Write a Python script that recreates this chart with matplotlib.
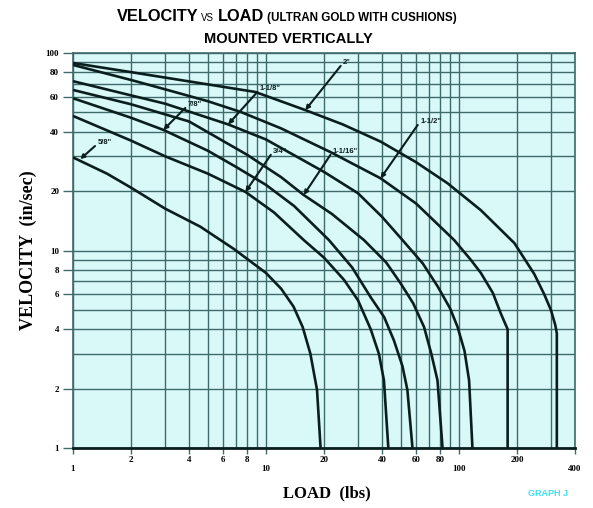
import matplotlib
matplotlib.use("Agg")
import matplotlib.pyplot as plt
from matplotlib.ticker import NullFormatter

# load (lbs) / velocity (in/sec), one pair of lists per bore
x_58 = [1, 1.5, 2, 3, 4.57, 6.8, 10, 12, 13.9, 15.5, 17, 18.4, 19.2]
v_58 = [29.6, 24.5, 20.8, 16.3, 13.2, 10.2, 7.7, 6.4, 5.2, 4.1, 3.0, 1.97, 1]
x_34 = [1, 2, 3, 5, 7.83, 11, 15.7, 20, 25.4, 30, 34.9, 38.5, 40.9, 43.1]
v_34 = [48, 36, 30, 24.5, 19.8, 15.6, 11.3, 9.2, 7.1, 5.6, 4.0, 3.0, 2.2, 1]
x_78 = [1, 2, 2.94, 5, 7, 10, 14, 21.2, 28, 34.9, 41, 46.1, 51, 54.1, 57.5]
v_78 = [59, 47, 40.8, 32, 26.5, 21.5, 16.8, 11.3, 8.2, 5.8, 4.6, 3.5, 2.6, 1.97, 1]
x_1116 = [1, 2, 4, 8, 12, 15.7, 22, 32.2, 42, 50, 58, 66, 72, 77.5, 82.3]
v_1116 = [65, 55, 45, 30.5, 23.5, 19.1, 15.3, 11.3, 8.7, 6.8, 5.4, 4.1, 3.0, 2.2, 1]
x_118 = [1, 2, 3, 6.37, 10, 20, 30, 40, 51, 65, 77.5, 90, 98.5, 107, 113, 117.6]
v_118 = [72, 61, 55.4, 43.5, 36.5, 25, 19.5, 14.8, 11.3, 8.6, 6.6, 5.1, 4.1, 3.1, 2.2, 1]
x_112 = [1, 2, 3, 5, 7.4, 12, 21.6, 39.3, 60, 94.5, 115, 130, 150, 165, 175, 179, 179]
v_112 = [87, 73, 65.5, 57, 50.3, 41.5, 31.5, 23.2, 17.3, 11.3, 9.0, 7.7, 6.1, 4.8, 4.2, 4.0, 1]
x_2 = [1, 2, 4, 8.8, 16, 25, 39.3, 60, 87.4, 130, 194, 246, 277, 300, 316, 322, 322]
v_2 = [89, 80, 71.8, 63.5, 51.4, 43.5, 35.6, 28, 21.9, 16, 10.9, 7.6, 6.0, 5.0, 4.2, 3.8, 1]

curves = [(x_58, v_58), (x_34, v_34), (x_78, v_78), (x_1116, v_1116),
          (x_118, v_118), (x_112, v_112), (x_2, v_2)]

# bore labels: text, point on curve, start of leader line
bore_labels = ['5/8"', '3/4"', '7/8"', '1-1/16"', '1-1/8"', '1-1/2"', '2"']
label_tip = [(1.09, 29.0), (7.83, 19.8), (2.94, 40.8), (15.7, 19.1),
             (6.37, 43.5), (39.3, 23.2), (16.0, 51.4)]
label_start = [(1.30, 33.8), (10.6, 30.5), (3.82, 52.7), (21.6, 30.5),
               (9.03, 63.5), (61.2, 43.2), (24.4, 86)]

x_ticks = [1, 2, 4, 6, 8, 10, 20, 40, 60, 80, 100, 200, 400]
x_minor = [3, 5, 7, 9, 30, 50, 70, 90, 300]
y_ticks = [1, 2, 4, 6, 8, 10, 20, 40, 60, 80, 100]
y_minor = [3, 5, 7, 9, 30, 50, 70, 90]

W, H = 593, 508
sans = ['Liberation Sans', 'DejaVu Sans']
serif = ['Liberation Serif', 'DejaVu Serif']
grid_c = '#3f6a6a'
ink = '#0a1e1e'

fig = plt.figure(figsize=(W / 100, H / 100), dpi=100)
ax = fig.add_axes([73 / W, 1 - 448 / H, 502 / W, 395 / H])
ax.set_facecolor('#d9f8f8')
ax.set_xscale('log')
ax.set_yscale('log')
ax.set_xlim(1, 400)
ax.set_ylim(1, 100)

ax.set_xticks(x_ticks)
ax.set_xticklabels([str(t) for t in x_ticks])
ax.set_xticks(x_minor, minor=True)
ax.set_yticks(y_ticks)
ax.set_yticklabels([str(t) for t in y_ticks])
ax.set_yticks(y_minor, minor=True)
ax.xaxis.set_minor_formatter(NullFormatter())
ax.yaxis.set_minor_formatter(NullFormatter())
ax.grid(True, which='both', color=grid_c, lw=1.0)
ax.tick_params(which='minor', length=0)
ax.tick_params(axis='x', which='major', length=4, width=1, color=grid_c, pad=2)
ax.tick_params(axis='y', which='major', length=7, width=1, color=grid_c, pad=3)
for lab in ax.get_xticklabels() + ax.get_yticklabels():
    lab.set_family(serif)
    lab.set_fontweight('bold')
    lab.set_fontsize(6.5)
for t, val in zip(ax.xaxis.get_major_ticks(), x_ticks):
    if val in (1, 10, 100, 400):
        t.set_pad(8)

for s in ax.spines.values():
    s.set_color(grid_c)
    s.set_linewidth(1.2)
ax.spines['bottom'].set_color(ink)
ax.spines['bottom'].set_linewidth(2)

for xs, vs in curves:
    ax.plot(xs, vs, color=ink, lw=1.9, solid_capstyle='butt', solid_joinstyle='round', zorder=3)

for txt, tip, start in zip(bore_labels, label_tip, label_start):
    ax.annotate('', xy=tip, xytext=start,
                arrowprops=dict(arrowstyle='-|>', color=ink, lw=1.5,
                                mutation_scale=6, shrinkA=0, shrinkB=0),
                zorder=4)
    ax.text(start[0] * 1.03, start[1], txt, fontsize=5.5, fontweight='bold',
            family=sans, color=ink, ha='left', va='bottom', zorder=4)

# title built from pieces of different sizes
y1 = 1 - 21 / H
fig.text(117 / W, y1, 'VELOCITY', fontsize=11.8, fontweight='bold', family=sans, va='baseline')
fig.text(201 / W, y1, 'VS', fontsize=7, family=sans, va='baseline')
fig.text(218 / W, y1, 'LOAD', fontsize=11.8, fontweight='bold', family=sans, va='baseline')
fig.text(267 / W, y1, '(ULTRAN GOLD WITH CUSHIONS)', fontsize=8.4, fontweight='bold',
         family=sans, va='baseline')
fig.text(288 / W, 1 - 43 / H, 'MOUNTED VERTICALLY', fontsize=10.5, fontweight='bold',
         family=sans, ha='center', va='baseline')

fig.text(28 / W, 1 - 250 / H, 'VELOCITY  (in/sec)', rotation=90, fontsize=13,
         fontweight='bold', family=serif, ha='center', va='center')
fig.text(327 / W, 1 - 493 / H, 'LOAD  (lbs)', fontsize=12, fontweight='bold',
         family=serif, ha='center', va='center')
fig.text(548 / W, 1 - 493 / H, 'GRAPH J', fontsize=6.5, fontweight='bold',
         family=sans, color='#3ee2f2', ha='center', va='center')

fig.savefig('out.png', dpi=100)
